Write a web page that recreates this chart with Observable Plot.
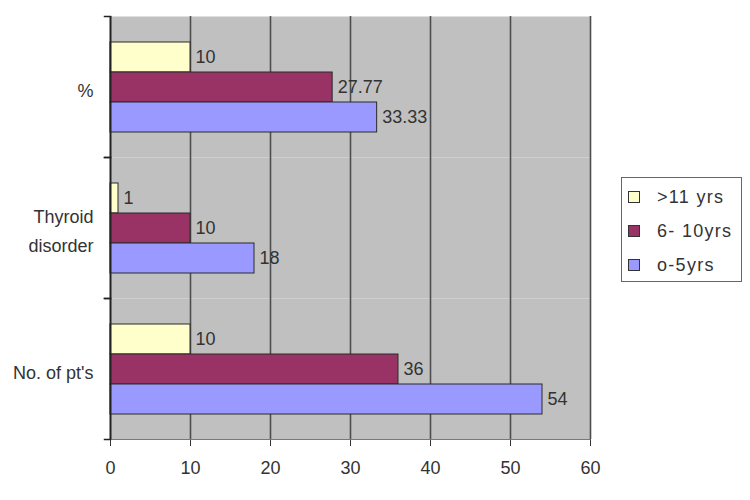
<!DOCTYPE html>
<html>
<head>
<meta charset="utf-8">
<script src="https://cdn.jsdelivr.net/npm/d3@7"></script>
<script src="https://cdn.jsdelivr.net/npm/@observablehq/plot@0.6"></script>
<style>
  html, body { margin: 0; padding: 0; background: #fff; }
  #wrap { position: relative; width: 750px; height: 500px; font-family: "Liberation Sans", Arial, sans-serif; }
  #legend { position: absolute; left: 621px; top: 177px; width: 121px; height: 105px;
            border: 1.5px solid #666; background: #fff; box-sizing: border-box; padding-top: 2px; }
  .item { display: flex; align-items: center; height: 34px; font-size: 18px; letter-spacing: 1.3px; color: #333; }
  .sw { width: 10px; height: 10px; border: 1.5px solid #333; margin-left: 6px; margin-right: 17px; }
</style>
</head>
<body>
<div id="wrap"><div id="legend"></div></div>
<script>
const groups = ["%", "Thyroid disorder", "No. of pt's"];
const series = [">11 yrs", "6- 10yrs", "o-5yrs"];
const colors = ["#ffffcc", "#993366", "#9999ff"];
const valuesOver11 = [10, 1, 10];
const values6to10 = [27.77, 10, 36];
const values0to5 = [33.33, 18, 54];
const xTicks = [0, 10, 20, 30, 40, 50, 60];

const seriesValues = [valuesOver11, values6to10, values0to5];
const data = [];
groups.forEach((g, gi) => {
  series.forEach((s, si) => data.push({group: g, series: s, value: seriesValues[si][gi]}));
});

const width = 750, marginLeft = 110, marginRight = 160;
const plotWidth = width - marginLeft - marginRight;

const chart = Plot.plot({
  width,
  height: 500,
  marginLeft,
  marginRight,
  marginTop: 15,
  marginBottom: 60,
  style: {fontFamily: "'Liberation Sans', Arial, sans-serif", fontSize: "18px", color: "#333", background: "transparent"},
  x: {domain: [0, 60], ticks: xTicks, tickSize: 7, tickPadding: 15, label: null, line: true},
  y: {domain: series, axis: null, paddingInner: 0, paddingOuter: 0.78},
  fy: {domain: groups, padding: 0, label: null, axis: null},
  color: {domain: series, range: colors},
  marks: [
    Plot.frame({fill: "#c0c0c0", stroke: null}),
    Plot.ruleX(xTicks.slice(1), {stroke: "#4d4d4d", strokeWidth: 1.6}),
    Plot.frame({anchor: "top", insetLeft: -6, insetRight: plotWidth, stroke: "#222", strokeWidth: 1.5}),
    Plot.frame({anchor: "bottom", insetLeft: -6, insetRight: plotWidth, stroke: "#222", strokeWidth: 1.5}),
    Plot.axisFy({anchor: "left", tickSize: 0, tickPadding: 17, label: null, lineHeight: 1.65,
                 fontSize: 18, fill: "#333",
                 tickFormat: d => d === "Thyroid disorder" ? "Thyroid\ndisorder" : d}),
    Plot.barX(data, {x: "value", y: "series", fy: "group", fill: "series", stroke: "#2a2a2a", strokeWidth: 1}),
    Plot.text(data, {x: "value", y: "series", fy: "group", text: d => String(d.value),
                     textAnchor: "start", dx: 5, fill: "#333", fontSize: 18}),
    Plot.ruleX([0], {stroke: "#222", strokeWidth: 2})
  ]
});
document.getElementById("wrap").prepend(chart);

const legend = document.getElementById("legend");
series.forEach((s, i) => {
  const item = document.createElement("div");
  item.className = "item";
  const sw = document.createElement("span");
  sw.className = "sw";
  sw.style.background = colors[i];
  const label = document.createElement("span");
  label.textContent = s;
  item.append(sw, label);
  legend.append(item);
});
</script>
</body>
</html>
